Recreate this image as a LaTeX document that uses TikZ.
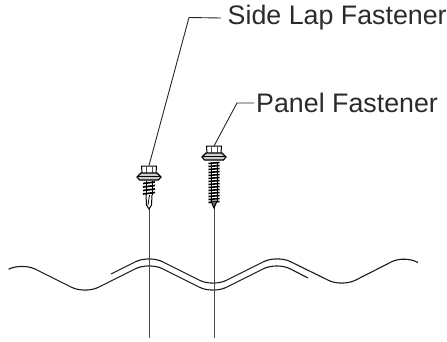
\documentclass[tikz,border=0pt]{standalone}
\usepackage{fontspec}
\setmainfont{Liberation Sans}
\usepackage{tikz}
\usetikzlibrary{positioning,calc}
\definecolor{labelgray}{HTML}{2B2B2B}
\tikzset{
	leader/.style={line width=0.9pt, black!85},
	axisline/.style={line width=1pt, black!70},
	sheet/.style={line width=1.1pt, black!90, rounded corners=15pt},
	label/.style={anchor=west, inner ysep=0pt, text=labelgray, font=\fontsize{26.8}{30}\selectfont},
	pics/fasthead/.style={code={
		\draw[line width=1pt] (-7,-7) -- (-7.5,-14) -- (7.5,-14) -- (7,-7);
		\draw[line width=0.6pt, black!70] (-3,-7) -- (-3,-14) (3,-7) -- (3,-14);
		\draw[line width=1.1pt, fill=black!20] (-8,-7) -- (8,-7) -- (12,-3) -- (9.5,0) -- (-9.5,0) -- (-12,-3) -- cycle;
		\draw[line width=1pt] (-12,-3.5) -- (12,-3.5);
	}}
}
\begin{document}
\begin{tikzpicture}[x=1pt,y=-1pt]
	\useasboundingbox (0,0) rectangle (447,341);
	
	\node[label, inner xsep=6.5pt] (sidelap) at (221,18) {Side Lap Fastener};
	\node[label, inner xsep=2pt] (panel) at (254,103) {Panel Fastener};
	\coordinate (bend1) at (189,17.5);
	\coordinate (bend2) at (237,103);
	\coordinate (head1) at (149,165.5);
	\coordinate (head2) at (214,146);
	
	\draw[leader] (sidelap.west) -- (bend1) -- (head1);
	\draw[leader] (panel.west) -- (bend2) -- (head2);
	
	% sheets
	\draw[sheet] (9,269) -- (22,262.5) -- (85,294) -- (149,262) -- (213,294) -- (277,262) -- (308,278);
	\draw[sheet] (111,274) -- (149,255) -- (213,287) -- (277,255) -- (342,287) -- (405,255) -- (417,262);
	
	% side lap fastener
	\draw[axisline] (149,209) -- (149,338);
	\pic at (149,180) {fasthead};
	\foreach \y in {183.5,187,190.5,194}
		\draw[line width=1.7pt] (143,\y) -- (155,\y-1.5);
	\draw[line width=0.9pt] (146,181) -- (146,195) (152,181) -- (152,195);
	\draw[line width=1pt] (146,195) -- (146.5,205) -- (149,209) -- (151.5,205) -- (152,195);
	\draw[line width=0.8pt] (149.5,195) -- (148,205);
	
	% panel fastener
	\draw[axisline] (214,204) -- (214,338);
	\pic at (214,160) {fasthead};
	\foreach \y in {163.5,166.5,...,203}
		\draw[line width=1.6pt] (208.5,\y) -- (219.5,\y-1);
	\draw[line width=1pt] (211,162) -- (211,201) (217,162) -- (217,201);
	\draw[line width=1pt, fill=black!60] (211,201) -- (214,208) -- (217,201) -- cycle;
\end{tikzpicture}
\end{document}
